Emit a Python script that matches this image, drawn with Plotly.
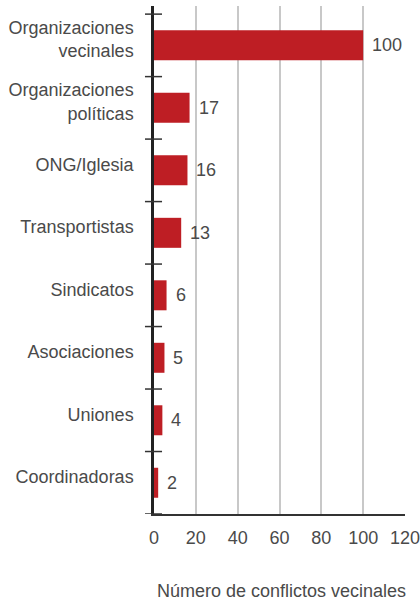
import plotly.graph_objects as go

categories = ["Organizaciones<br>vecinales", "Organizaciones<br>políticas", "ONG/Iglesia",
              "Transportistas", "Sindicatos", "Asociaciones", "Uniones", "Coordinadoras"]
values = [100, 17, 16, 13, 6, 5, 4, 2]
x_ticks = [0, 20, 40, 60, 80, 100, 120]
x_title = "Número de conflictos vecinales"

# bottom-to-top order for horizontal bars
cats_r = categories[::-1]
vals_r = values[::-1]

BAR = "#BE1E24"
TXT = "#4a4a4a"
FONT = "Liberation Sans"
FS = 18

fig = go.Figure()
fig.add_trace(go.Bar(
    x=vals_r, y=cats_r, orientation="h",
    marker=dict(color=BAR, line=dict(width=0)),
    hoverinfo="skip",
))

n = len(categories)
for c, v in zip(cats_r, vals_r):
    fig.add_annotation(x=v, y=c, text=str(v), showarrow=False, xanchor="left",
                       xshift=7, font=dict(family=FONT, size=FS, color=TXT))

# crossing tick marks at category boundaries
for i in range(n + 1):
    fig.add_shape(type="line", xref="paper", yref="y",
                  x0=-0.036, x1=0.032, y0=i - 0.5, y1=i - 0.5,
                  line=dict(color="#333333", width=1.5))

fig.add_annotation(text=x_title, xref="paper", yref="paper", x=0.5, y=0,
                   yanchor="top", yshift=-65, xshift=2, showarrow=False,
                   font=dict(family=FONT, size=FS, color=TXT))

fig.update_layout(
    width=420, height=601,
    margin=dict(l=154, r=15, t=6, b=87, autoexpand=False),
    paper_bgcolor="white", plot_bgcolor="white",
    bargap=0.52, showlegend=False,
    font=dict(family=FONT, color=TXT),
)
fig.update_xaxes(
    range=[0, 120], tickvals=x_ticks, ticks="",
    showgrid=True, gridcolor="#c8c8c8", gridwidth=1.5,
    showline=True, linecolor="#333333", linewidth=2,
    zeroline=False, ticklabelstandoff=6, ticklabeloverflow="allow",
    automargin=False,
    tickfont=dict(family=FONT, size=FS, color=TXT),
)
fig.update_yaxes(
    type="category", categoryorder="array", categoryarray=cats_r,
    range=[-0.5, n - 0.5 + 0.13], ticks="", showgrid=False,
    showline=True, linecolor="#222222", linewidth=2.5,
    ticklabelstandoff=14, ticklabelshift=-6, automargin=False,
    tickfont=dict(family=FONT, size=FS, color=TXT),
)

fig.write_html("out.html", config={"displayModeBar": False},
               post_script="document.body.style.margin='0';")
